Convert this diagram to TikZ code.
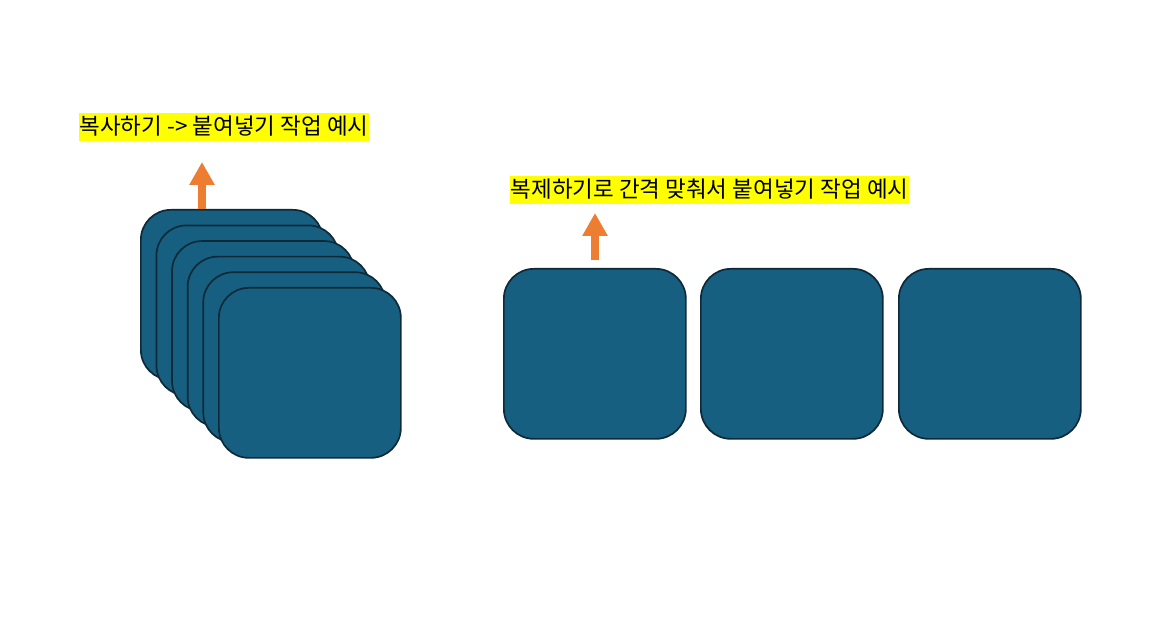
\documentclass[tikz,border=0pt]{standalone}
\usepackage{fontspec}
\newfontfamily\kr{Noto Sans CJK KR}
\usetikzlibrary{arrows.meta}
\definecolor{cardfill}{HTML}{175F80}
\definecolor{carddraw}{HTML}{0E2A38}
\definecolor{arroworange}{HTML}{ED7D31}
\definecolor{hl}{HTML}{FFFF00}
\tikzset{
  card/.style={draw=carddraw, fill=cardfill, line width=1.7pt, rounded corners=30pt,
    minimum width=182pt, minimum height=170pt, inner sep=0pt, anchor=north west},
  label/.style={fill=hl, font=\kr\fontsize{22.5}{26}\selectfont, inner xsep=1pt, inner ysep=0pt,
    text height=21pt, text depth=7pt},
  uparrow/.style={draw=arroworange, line width=8pt, -{Triangle[width=24pt,length=23pt]}}
}
\begin{document}
\begin{tikzpicture}[x=1pt,y=-1pt]
\useasboundingbox (0,0) rectangle (1151,620);
% left stack
\foreach \i in {0,...,5} {
  \node[card] (s\i) at ({140+15.6*\i},{209+15.6*\i}) {};
}
% right row
\node[card] (r1) at (503,268) {};
\node[card] (r2) at (700,268) {};
\node[card] (r3) at (898,268) {};
% labels
\node[label] (l1) at (224,127.5) {복사하기 -> 붙여넣기 작업 예시};
\node[label] (l2) at (709.5,190.5) {복제하기로 간격 맞춰서 붙여넣기 작업 예시};
% arrows
\coordinate (a1s) at (202,209);
\coordinate (a1e) at (202,162);
\coordinate (a2s) at (595,260);
\coordinate (a2e) at (595,213);
\draw[uparrow] (a1s) -- (a1e);
\draw[uparrow] (a2s) -- (a2e);
\end{tikzpicture}
\end{document}
